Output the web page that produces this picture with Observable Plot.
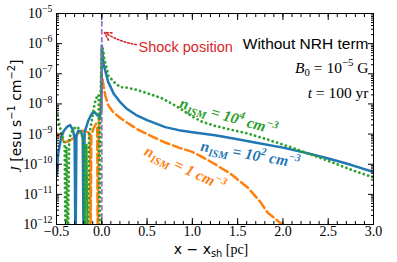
<!DOCTYPE html>
<html><head><meta charset="utf-8">
<script src="https://cdn.jsdelivr.net/npm/d3@7"></script>
<script src="https://cdn.jsdelivr.net/npm/@observablehq/plot@0.6"></script>
<style>html,body{margin:0;padding:0;background:#fff} svg{display:block}</style>
</head><body><div id="chart"></div>
<script>
// ---- data (log10 of J; -13 marks dips below the axis floor)
const blueX = [-0.50,-0.48,-0.45,-0.42,-0.38,-0.35,-0.32,-0.30,-0.29,-0.28,-0.26,-0.23,-0.21,-0.20,-0.19,-0.15,-0.11,-0.08,-0.05,-0.02,-0.005,0.0,0.01,0.02,0.04,0.07,0.13,0.20,0.28,0.38,0.50,0.70,0.85,1.00,1.25,1.50,1.75,2.00,2.25,2.50,2.75,3.00];
const blueLogJ = [-10.39,-9.62,-9.14,-8.90,-8.75,-8.70,-8.85,-9.14,-13,-9.04,-8.90,-8.90,-9.14,-13,-8.94,-8.56,-8.32,-8.27,-8.37,-8.42,-8.17,-6.06,-6.39,-6.68,-6.92,-7.26,-7.65,-7.93,-8.17,-8.37,-8.54,-8.77,-8.87,-8.94,-9.04,-9.17,-9.31,-9.45,-9.62,-9.81,-10.02,-10.26];

const greenX = [-0.50,-0.47,-0.44,-0.41,-0.40,-0.39,-0.375,-0.36,-0.32,-0.28,-0.24,-0.20,-0.185,-0.17,-0.155,-0.14,-0.11,-0.09,-0.07,-0.05,-0.035,-0.025,-0.015,0.0,0.008,0.02,0.03,0.04,0.06,0.07,0.12,0.15,0.21,0.26,0.32,0.37,0.48,0.67,0.85,1.0,1.1,1.25,1.42,1.6,1.86,2.08,2.3,2.52,2.75,3.0];
const greenLogJ = [-8.22,-8.66,-9.04,-9.33,-13,-9.43,-13,-9.14,-8.85,-8.75,-8.85,-9.23,-13,-9.33,-13,-9.04,-8.56,-8.17,-7.89,-7.74,-7.69,-13,-7.89,-6.11,-6.15,-6.33,-6.56,-6.65,-6.90,-7.06,-7.22,-7.32,-7.45,-7.45,-7.49,-7.52,-7.62,-7.82,-8.12,-8.42,-8.58,-8.73,-8.85,-8.97,-9.21,-9.43,-9.67,-9.91,-10.18,-10.44];

const orangeX = [-0.50,-0.45,-0.41,-0.36,-0.30,-0.25,-0.20,-0.15,-0.13,-0.125,-0.115,-0.09,-0.065,-0.05,-0.045,-0.03,-0.015,0.0,0.02,0.04,0.07,0.12,0.2,0.3,0.4,0.5,0.6,0.7,0.85,1.0,1.2,1.42,1.61,1.75,1.83,2.0,2.1];
const orangeLogJ = [-8.98,-9.11,-9.28,-9.23,-9.11,-8.94,-8.88,-8.94,-9.09,-13,-9.04,-8.80,-8.66,-8.75,-13,-8.46,-8.27,-7.02,-7.41,-7.74,-8.03,-8.25,-8.46,-8.66,-8.85,-9.00,-9.14,-9.28,-9.45,-9.59,-9.91,-10.31,-10.77,-11.25,-11.60,-12.02,-12.31];

const shockX = [0];
const xTicks = [-0.5, 0, 0.5, 1, 1.5, 2, 2.5, 3];
const yTicks = [1e-12, 1e-11, 1e-10, 1e-9, 1e-8, 1e-7, 1e-6, 1e-5];
const xMinor = d3.range(-5, 31).map(i => i / 10);
const yMinor = d3.range(-12, -5).flatMap(e => d3.range(2, 10).map(m => m * 10 ** e));

// annotations (data coordinates)
const labelKeys = ["n_ISM = 10^4 cm^-3", "n_ISM = 10^2 cm^-3", "n_ISM = 1 cm^-3"];
const labelX = [1.40, 1.64, 0.92];
const labelLogJ = [-8.42, -9.68, -10.14];
const labelAngle = [16, 10, 25];
const colors = {blue: "#1f77b4", green: "#2ca02c", orange: "#ff7f0e", red: "#d62728", purple: "#9467bd"};
const shockText = {x: 0.405, logJ: -6.13, text: "Shock position"};
const shockArrow = {x1: 0.38, logJ1: -6.03, x2: 0.03, logJ2: -5.63};
const infoLines = ["Without NRH term", "B0 = 10^-5 G", "t = 100 yr"];

// ---- tables
const tbl = (xs, ls) => xs.map((x, i) => ({x, J: 10 ** ls[i]}));
const blue = tbl(blueX, blueLogJ), green = tbl(greenX, greenLogJ), orange = tbl(orangeX, orangeLogJ);
const labels = labelKeys.map((t, i) => ({t, x: labelX[i], J: 10 ** labelLogJ[i], a: labelAngle[i]}));
const none = () => "";
const serif = "Liberation Serif, Times New Roman, serif";
const sans = "DejaVu Sans, sans-serif";
const arial = "Liberation Sans, Arial, sans-serif";
const lblStyle = {x: "x", y: "J", text: "t", fontFamily: serif, fontSize: 15.5, fontWeight: "bold", fontStyle: "italic"};

const plot = Plot.plot({
  width: 397, height: 262,
  marginLeft: 56, marginRight: 24, marginTop: 13, marginBottom: 38,
  style: {fontFamily: serif, fontSize: "14px", background: "#fff", color: "#000"},
  x: {domain: [-0.5, 3.0], axis: null, label: null},
  y: {type: "log", domain: [1e-12, 1e-5], axis: null, label: null},
  marks: [
    Plot.line(orange, {x: "x", y: "J", stroke: colors.orange, strokeWidth: 2.5, strokeDasharray: "9,4", clip: true}),
    Plot.line(blue, {x: "x", y: "J", stroke: colors.blue, strokeWidth: 2.5, clip: true}),
    Plot.line(green, {x: "x", y: "J", stroke: colors.green, strokeWidth: 2.8, strokeDasharray: "0.01,4.6", strokeLinecap: "round", clip: true}),
    Plot.ruleX(shockX, {stroke: colors.purple, strokeWidth: 1.8, strokeDasharray: "5.5,2.5", strokeOpacity: 0.9}),
    Plot.arrow([shockArrow], {x1: "x1", y1: d => 10 ** d.logJ1, x2: "x2", y2: d => 10 ** d.logJ2, bend: 12,
      stroke: colors.red, strokeWidth: 1.6, strokeDasharray: "1.6,2", headLength: 8}),
    Plot.text([shockText], {x: "x", y: d => 10 ** d.logJ, text: "text", textAnchor: "start",
      fill: colors.red, fontFamily: arial, fontSize: 14.5}),
    Plot.text([infoLines[0]], {frameAnchor: "top-right", dx: -5, dy: 24, fontFamily: arial, fontSize: 15.5, fill: "#000"}),
    Plot.text([infoLines[1]], {frameAnchor: "top-right", dx: -5, dy: 48, fontFamily: serif, fontSize: 15.5, fill: "#000"}),
    Plot.text([infoLines[2]], {frameAnchor: "top-right", dx: -5, dy: 73, fontFamily: serif, fontSize: 15.5, fill: "#000"}),
    Plot.text([labels[0]], {...lblStyle, rotate: labels[0].a, fill: colors.green}),
    Plot.text([labels[1]], {...lblStyle, rotate: labels[1].a, fill: colors.blue}),
    Plot.text([labels[2]], {...lblStyle, rotate: labels[2].a, fill: colors.orange}),
    // axes (inward ticks on all four sides)
    Plot.axisX(xMinor, {anchor: "bottom", tickSize: -3, tickFormat: none, label: null}),
    Plot.axisX(xMinor, {anchor: "top", tickSize: -3, tickFormat: none, label: null}),
    Plot.axisX(xTicks, {anchor: "bottom", tickSize: -6, tickPadding: 8, tickFormat: d3.format(".1f"), label: null}),
    Plot.axisX(xTicks, {anchor: "top", tickSize: -6, tickFormat: none, label: null}),
    Plot.axisY(yMinor, {anchor: "left", tickSize: -3, tickFormat: none, label: null}),
    Plot.axisY(yMinor, {anchor: "right", tickSize: -3, tickFormat: none, label: null}),
    Plot.axisY(yTicks, {anchor: "left", tickSize: -6, tickPadding: 10, tickFormat: d => "10^" + Math.round(Math.log10(d)), label: null}),
    Plot.axisY(yTicks, {anchor: "right", tickSize: -6, tickFormat: none, label: null}),
    Plot.frame({stroke: "#000", strokeWidth: 1}),
    Plot.text(["x - x_sh [pc]"], {frameAnchor: "bottom", dy: 25, dx: -4, lineAnchor: "middle", textAnchor: "middle", fontFamily: sans, fontSize: 14, fill: "#000"}),
    Plot.text(["J [esu s^-1 cm^-2]"], {frameAnchor: "left", dx: -40, dy: -3, rotate: -90, lineAnchor: "middle", textAnchor: "middle", fontFamily: sans, fontSize: 14, fill: "#000"})
  ]
});

// ---- rich text (sub/superscripts, italics) as real SVG text
const NS = "http://www.w3.org/2000/svg";
function rich(el, parts, base) {
  el.textContent = "";
  let shift = 0;
  for (const p of parts) {
    const ts = document.createElementNS(NS, "tspan");
    const target = p.sup ? -0.42 * base : p.sub ? 0.25 * base : 0;
    if (target !== shift) { ts.setAttribute("dy", target - shift); shift = target; }
    if (p.sup || p.sub) ts.setAttribute("font-size", (base * 0.7).toFixed(1));
    if (p.italic) ts.setAttribute("font-style", "italic");
    if (p.upright) ts.setAttribute("font-style", "normal");
    if (p.font) ts.setAttribute("font-family", p.font);
    ts.textContent = p.t;
    el.appendChild(ts);
  }
}
const M = "\u2212";
const richMap = {
  "B0 = 10^-5 G": [[{t: "B", italic: true}, {t: "0", sub: true}, {t: " = 10"}, {t: M + "5", sup: true}, {t: " G"}], 15.5],
  "t = 100 yr": [[{t: "t", italic: true}, {t: " = 100 yr"}], 15.5],
  "x - x_sh [pc]": [[{t: "x " + M + " x"}, {t: "sh", sub: true}, {t: " [pc]", font: serif}], 14],
  "J [esu s^-1 cm^-2]": [[{t: "J", italic: true, font: serif}, {t: " [esu s"}, {t: M + "1", sup: true}, {t: " cm"}, {t: M + "2", sup: true}, {t: "]"}], 14],
};
for (const k of labelKeys) {
  const v = k.match(/= (\S+?)(\^(\d))? cm/);
  const parts = [{t: "n"}, {t: "ISM", sub: true}, {t: " = " + v[1]}];
  if (v[3]) parts.push({t: v[3], sup: true});
  parts.push({t: " cm"}, {t: M + "3", sup: true});
  richMap[k] = [parts, 15.5];
}
plot.querySelectorAll("text").forEach(el => {
  const s = el.textContent;
  if (richMap[s]) { rich(el, richMap[s][0], richMap[s][1]); return; }
  const m = s.match(/^10\^(-?\d+)$/);
  if (m) rich(el, [{t: "10"}, {t: m[1].replace("-", M), sup: true}], 14);
});
document.getElementById("chart").appendChild(plot);
</script>
</body></html>
